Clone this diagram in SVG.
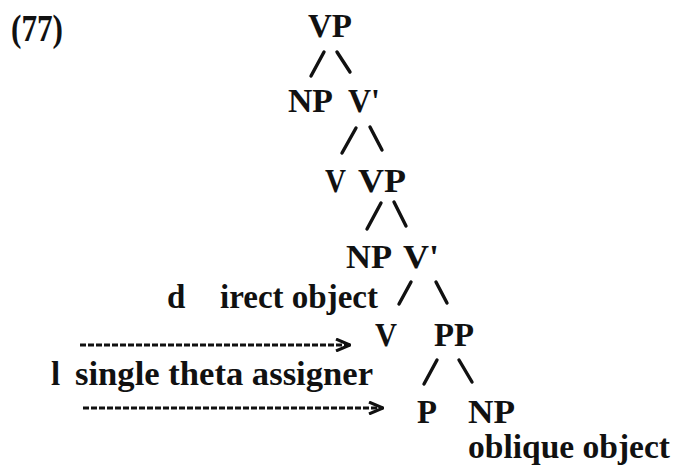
<svg xmlns="http://www.w3.org/2000/svg" width="674" height="468" viewBox="0 0 674 468">
<defs>
<style>
text{font-family:"Liberation Serif","Times New Roman",serif;font-weight:bold;font-size:33px;fill:#111}
.big{font-size:37px}
.sl{stroke:#111;stroke-width:3.4;stroke-linecap:round;fill:none}
.da{stroke:#111;stroke-width:3;stroke-dasharray:6 2;fill:none}
</style>
<marker id="chev" viewBox="0 0 16 14" refX="15" refY="7" markerWidth="16" markerHeight="14" markerUnits="userSpaceOnUse" orient="auto">
<polyline points="1,1 15,7 1,13" fill="none" stroke="#111" stroke-width="3" stroke-linejoin="miter"/>
</marker>
</defs>
<rect width="674" height="468" fill="#fff"/>
<g id="num"><text class="big" x="11" y="41" textLength="52" lengthAdjust="spacingAndGlyphs">(77)</text></g>
<g id="vp1"><text x="308" y="37" textLength="44" lengthAdjust="spacingAndGlyphs">VP</text></g>
<g id="np1"><text x="288" y="112" textLength="45" lengthAdjust="spacingAndGlyphs">NP</text></g>
<g id="vbar1"><text x="348" y="112" textLength="32" lengthAdjust="spacingAndGlyphs">V'</text></g>
<g id="v1"><text x="325" y="192" textLength="21" lengthAdjust="spacingAndGlyphs">V</text></g>
<g id="vp2"><text x="358" y="192" textLength="48" lengthAdjust="spacingAndGlyphs">VP</text></g>
<g id="np2"><text x="346" y="268" textLength="46" lengthAdjust="spacingAndGlyphs">NP</text></g>
<g id="vbar2"><text x="403" y="268" textLength="36" lengthAdjust="spacingAndGlyphs">V'</text></g>
<g id="lbl-do"><text x="167" y="308">d</text><text x="220" y="308" textLength="158" lengthAdjust="spacingAndGlyphs">irect object</text></g>
<g id="v2"><text x="375" y="346" textLength="22" lengthAdjust="spacingAndGlyphs">V</text></g>
<g id="pp"><text x="434" y="346" textLength="40" lengthAdjust="spacingAndGlyphs">PP</text></g>
<g id="lbl-sta"><text x="51" y="385">l</text><text x="75" y="385" textLength="298" lengthAdjust="spacingAndGlyphs">single theta assigner</text></g>
<g id="p"><text x="417" y="423" textLength="20" lengthAdjust="spacingAndGlyphs">P</text></g>
<g id="np3"><text x="468" y="423" textLength="47" lengthAdjust="spacingAndGlyphs">NP</text></g>
<g id="lbl-oo"><text x="468" y="458" textLength="202" lengthAdjust="spacingAndGlyphs">oblique object</text></g>
<g id="connectors">
<line class="sl" x1="311" y1="76" x2="324" y2="52"/>
<line class="sl" x1="337" y1="52" x2="350" y2="72"/>
<line class="sl" x1="342" y1="153" x2="356" y2="128"/>
<line class="sl" x1="370" y1="127" x2="382" y2="150"/>
<line class="sl" x1="367" y1="229" x2="381" y2="203"/>
<line class="sl" x1="394" y1="202" x2="406" y2="226"/>
<line class="sl" x1="399" y1="304" x2="411" y2="282"/>
<line class="sl" x1="436" y1="282" x2="447" y2="303"/>
<line class="sl" x1="424" y1="384" x2="437" y2="360"/>
<line class="sl" x1="459" y1="360" x2="472" y2="382"/>
<line class="da" x1="80" y1="345" x2="350" y2="345" marker-end="url(#chev)"/>
<line class="da" x1="83" y1="408" x2="383" y2="408" marker-end="url(#chev)"/>
</g>
</svg>
